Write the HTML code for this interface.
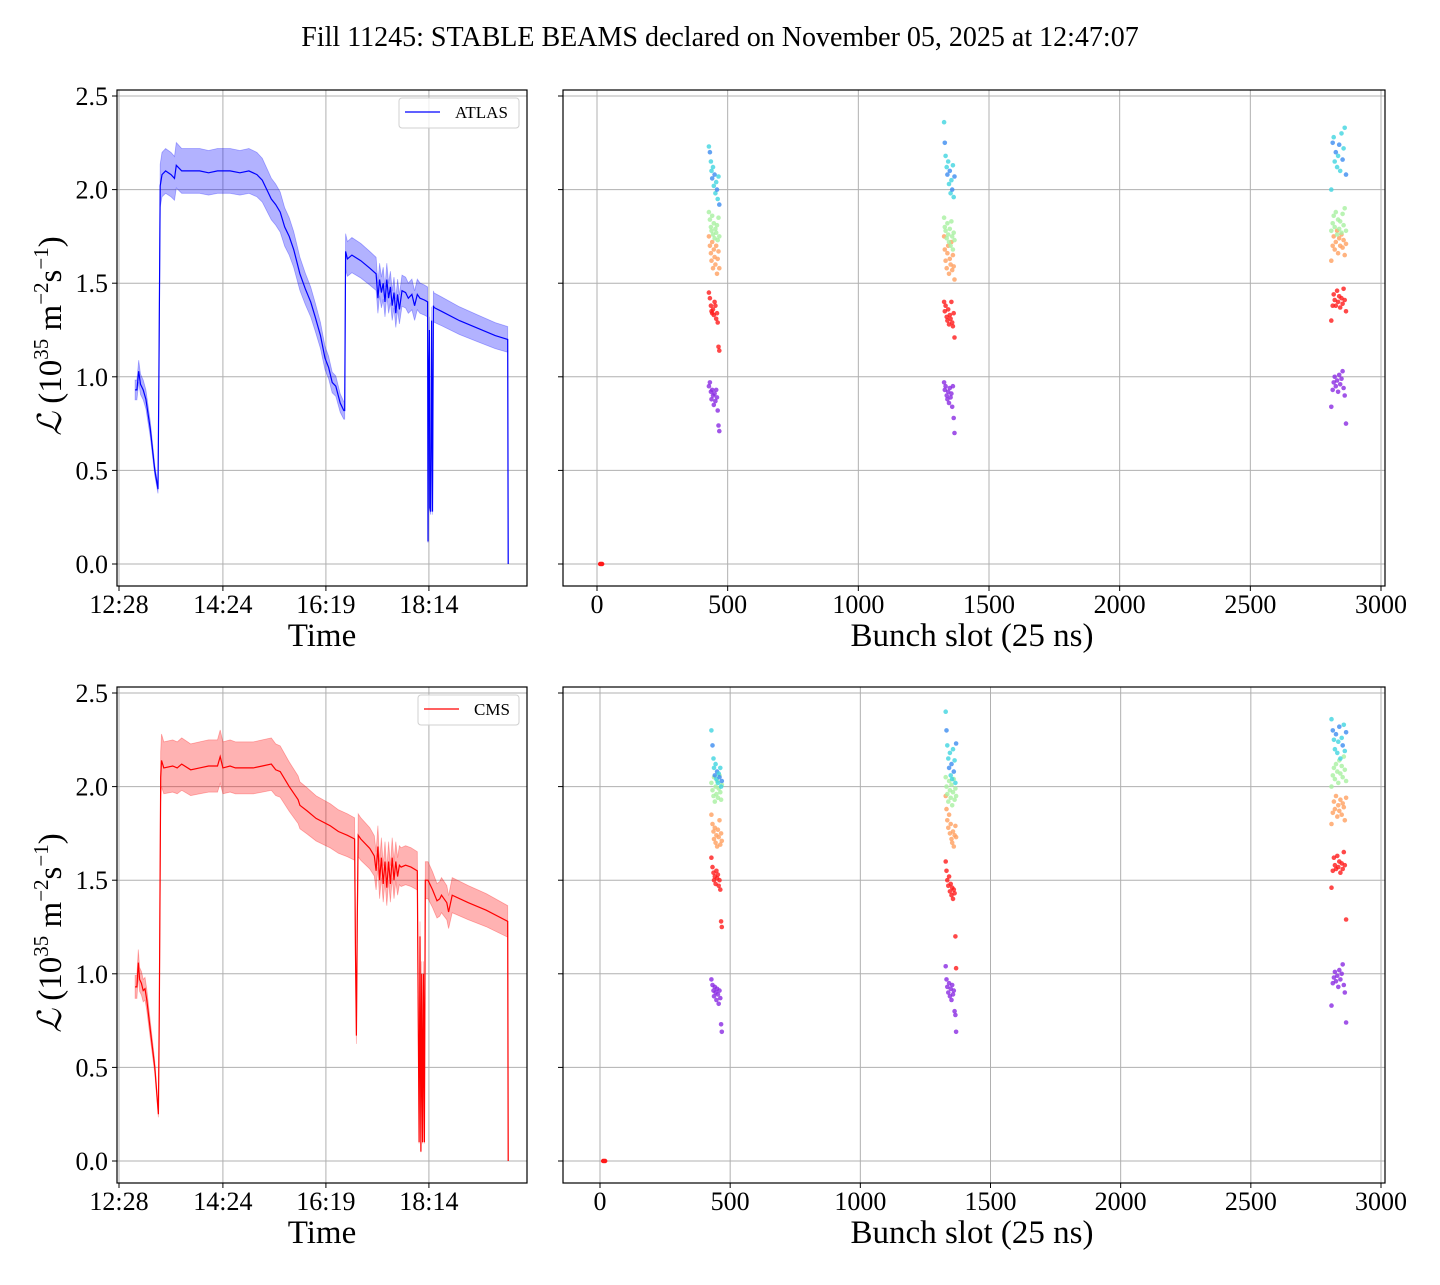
<!DOCTYPE html>
<html><head><meta charset="utf-8"><style>
html,body{margin:0;padding:0;background:#fff;}
svg text{font-family:"Liberation Serif","DejaVu Serif",serif;fill:#000;}
</style></head><body>
<svg id="fig" width="1440" height="1280" viewBox="0 0 1440 1280" xmlns="http://www.w3.org/2000/svg">
<rect width="1440" height="1280" fill="#fff"/>
<text x="720" y="46" font-size="28" text-anchor="middle">Fill 11245: STABLE BEAMS declared on November 05, 2025 at 12:47:07</text>
</svg>
<script>
// ---------- data ----------
const timeTickLabels = ["12:28","14:24","16:19","18:14"];
const timeTickMinutes = [0,116,231,346];
const yTicks = [0.0,0.5,1.0,1.5,2.0,2.5];
const yTickLabels = ["0.0","0.5","1.0","1.5","2.0","2.5"];
const slotTicks = [0,500,1000,1500,2000,2500,3000];
const atlasErrFrac = 0.057;
const cmsErrFrac = 0.066;
const atlasPoints = [[18,.93],[20,.93],[22,1.03],[24,.96],[27,.93],[30,.88],[35,.72],[40,.5],[43.5,.4],[44.5,1.0],[46,2.02],[48,2.08],[52,2.1],[58,2.08],[62,2.06],[64,2.13],[70,2.1],[80,2.1],[90,2.1],[100,2.09],[110,2.1],[124,2.1],[135,2.09],[145,2.1],[154,2.08],[160,2.05],[166,1.99],[170,1.95],[175,1.92],[180,1.88],[185,1.8],[190,1.75],[195,1.68],[202,1.55],[208,1.47],[214,1.4],[219,1.32],[225,1.22],[230,1.1],[234,1.05],[238,.97],[242,.95],[247,.86],[251,.82],[252,.82],[253,1.67],[255,1.63],[260,1.65],[270,1.62],[280,1.58],[287,1.55],[289,1.42],[291,1.52],[293,1.45],[295,1.5],[297,1.4],[299,1.52],[301,1.42],[303,1.48],[305,1.38],[307,1.45],[309,1.34],[311,1.44],[313,1.36],[316,1.46],[320,1.45],[323,1.42],[327,1.44],[330,1.38],[333,1.44],[336,1.42],[341,1.41],[344.5,1.40],[345,.12],[345.5,.95],[346.5,1.25],[347,.3],[348,.28],[349,1.3],[350,.28],[351,1.38],[351.7,1.37],[360,1.35],[380,1.3],[400,1.26],[420,1.22],[434,1.2],[434.5,0]];
const cmsPoints = [[18,.93],[20,.93],[21.5,1.06],[23,.97],[25,.95],[27,.91],[29,.92],[31,.86],[35,.7],[40,.5],[44,.25],[45,.8],[46.5,2.05],[47.5,2.14],[50,2.1],[60,2.11],[65,2.1],[70,2.12],[80,2.09],[90,2.1],[100,2.11],[110,2.11],[113,2.16],[116,2.1],[124,2.11],[130,2.1],[140,2.1],[150,2.1],[160,2.11],[170,2.12],[175,2.09],[180,2.08],[190,2.0],[200,1.93],[202,1.9],[210,1.87],[220,1.83],[236,1.79],[245,1.76],[255,1.74],[263,1.72],[264,1.1],[265,.67],[266,1.3],[267,1.74],[270,1.72],[280,1.67],[285,1.63],[287,1.55],[289,1.68],[291,1.5],[293,1.62],[295,1.48],[297,1.6],[299,1.46],[301,1.6],[303,1.48],[305,1.62],[307,1.5],[309,1.6],[311,1.52],[313,1.58],[315,1.57],[320,1.58],[326,1.57],[333,1.55],[334,.8],[335,.1],[336,1.2],[337,.05],[338,1.0],[339,.1],[340,1.0],[341,.1],[342,1.5],[345,1.5],[350,1.45],[355,1.39],[358,1.4],[360,1.42],[366,1.38],[368,1.33],[372,1.42],[390,1.38],[410,1.34],[434,1.28],[434.5,0]];

const slotsA = [428,432,436,438,441,444,447,450,453,456,459,462,465,468];
const slotsB = [1328,1331,1334,1338,1341,1344,1347,1350,1353,1356,1359,1362,1365,1368];
const slotsC = [2810,2815,2819,2823,2827,2832,2836,2840,2844,2849,2853,2857,2861,2866];
const levelColors = ["#8a2be2","#ff1a1a","#ffa060","#a8f0a0","#40d4e0"];
const atlasA = [
 [.95,.97,.92,.88,.93,.90,.85,.91,.87,.93,.89,.82,.74,.71],
 [1.45,1.42,1.38,1.35,1.34,1.36,1.33,1.40,1.38,1.31,1.34,1.29,1.16,1.14],
 [1.75,1.70,1.66,1.62,1.72,1.58,1.68,1.64,1.60,1.70,1.55,1.63,1.67,1.58],
 [1.88,1.84,1.80,1.78,1.86,1.76,1.82,1.74,1.79,1.77,1.81,1.73,1.85,1.75],
 [2.23,2.20,2.15,2.10,2.06,2.12,2.02,2.08,1.98,2.04,2.00,1.95,2.07,1.92]];
const atlasB = [
 [.97,.93,.95,.90,.88,.92,.86,.94,.89,.91,.84,.95,.78,.70],
 [1.40,1.35,1.38,1.32,1.30,1.36,1.28,1.33,1.31,1.40,1.29,1.27,1.34,1.21],
 [1.75,1.68,1.62,1.58,1.66,1.70,1.55,1.63,1.60,1.72,1.57,1.65,1.59,1.52],
 [1.85,1.80,1.78,1.74,1.82,1.76,1.72,1.79,1.70,1.83,1.75,1.68,1.77,1.73],
 [2.36,2.25,2.18,2.12,2.08,2.15,2.03,2.10,1.98,2.05,2.00,2.13,1.96,2.07]];
const atlasC = [
 [.84,.93,.97,1.00,.95,.98,.92,1.01,.96,.99,1.03,.94,.90,.75],
 [1.30,1.38,1.44,1.41,1.38,1.46,1.40,1.43,1.37,1.42,1.39,1.47,1.41,1.35],
 [1.62,1.70,1.75,1.68,1.72,1.78,1.66,1.74,1.70,1.76,1.69,1.73,1.65,1.71],
 [1.78,1.82,1.86,1.80,1.88,1.76,1.84,1.79,1.83,1.77,1.87,1.81,1.90,1.78],
 [2.00,2.25,2.28,2.15,2.20,2.12,2.18,2.24,2.10,2.30,2.16,2.22,2.33,2.08]];
const cmsA = [
 [.97,.94,.91,.88,.93,.90,.86,.92,.89,.84,.91,.87,.73,.69],
 [1.62,1.57,1.54,1.50,1.52,1.48,1.55,1.51,1.53,1.47,1.50,1.45,1.28,1.25],
 [1.85,1.80,1.76,1.72,1.78,1.70,1.74,1.68,1.77,1.73,1.82,1.69,1.75,1.71],
 [2.02,1.98,1.95,2.05,1.92,2.00,1.96,2.03,1.94,1.99,2.06,1.97,1.93,2.01],
 [2.30,2.22,2.15,2.10,2.06,2.12,2.04,2.08,2.02,2.07,2.05,2.10,2.00,2.03]];
const cmsB = [
 [1.04,.97,.93,.90,.95,.88,.92,.86,.94,.89,.91,.80,.78,.69],
 [1.60,1.55,1.50,1.47,1.52,1.44,1.48,1.42,1.46,1.40,1.45,1.43,1.20,1.03],
 [1.95,1.88,1.82,1.78,1.85,1.75,1.80,1.72,1.70,1.76,1.68,1.74,1.79,1.73],
 [2.05,2.00,1.96,1.92,2.03,1.98,1.94,2.01,1.90,1.97,2.04,1.93,1.99,1.95],
 [2.40,2.30,2.22,2.15,2.10,2.18,2.06,2.12,2.04,2.20,2.08,2.14,2.02,2.23]];
const cmsC = [
 [.83,.95,.98,1.01,.96,.99,.93,1.02,.97,1.00,1.05,.94,.90,.74],
 [1.46,1.55,1.62,1.58,1.56,1.63,1.57,1.60,1.54,1.59,1.56,1.65,1.58,1.29],
 [1.80,1.86,1.92,1.88,1.95,1.84,1.90,1.87,1.93,1.85,1.91,1.89,1.82,1.94],
 [2.00,2.06,2.10,2.04,2.12,2.08,2.02,2.14,2.07,2.11,2.05,2.16,2.09,2.03],
 [2.36,2.30,2.25,2.20,2.28,2.18,2.24,2.32,2.15,2.26,2.22,2.33,2.19,2.29]];
const emptySlot = [12,16,20];
const emptyVal = [0,0,0];

// ---------- drawing ----------
const NS="http://www.w3.org/2000/svg";
const svg=document.getElementById('fig');
function el(tag,attrs,parent){const e=document.createElementNS(NS,tag);for(const k in attrs)e.setAttribute(k,attrs[k]);(parent||svg).appendChild(e);return e;}

function yScaleFor(top){const y0=top?564:1161;return v=>y0-v*187.2;}
function tScale(t){return 119+t*0.8957;}

function drawFrame(g,x0,x1,yt,yb){
  const r=el('rect',{x:x0,y:yt,width:x1-x0,height:yb-yt,fill:'none',stroke:'#000','stroke-width':1.2},g);
  
  
}
function drawYAxis(g,x0,x1,ys,labels){
  yTicks.forEach((v,i)=>{
    const y=ys(v);
    const gl=el('line',{x1:x0,x2:x1,y1:y,y2:y,stroke:'#b0b0b0','stroke-width':1},g);
    
    
    const tk=el('line',{x1:x0-5,x2:x0,y1:y,y2:y,stroke:'#000','stroke-width':1},g);
    
    
    if(labels){
      const t=el('text',{x:x0-9,y:y+9,'font-size':26,'text-anchor':'end'},g);
      t.textContent=yTickLabels[i];
      
      
    }
  });
}
function drawTimePanel(top,pts,errFrac,color,fill,name,legendX){
  const yt=top?90:687,yb=top?586:1183,x0=117,x1=527;
  const g=el('g',{});
  
  
  const ys=yScaleFor(top);
  timeTickMinutes.forEach((m,i)=>{
    const x=tScale(m);
    const gl=el('line',{x1:x,x2:x,y1:yt,y2:yb,stroke:'#b0b0b0','stroke-width':1},g);
    
    
    const tk=el('line',{x1:x,x2:x,y1:yb,y2:yb+5,stroke:'#000','stroke-width':1},g);
    
    
    const t=el('text',{x:x,y:yb+27,'font-size':26,'text-anchor':'middle'},g);
    t.textContent=timeTickLabels[i];
    
    
  });
  drawYAxis(g,x0,x1,ys,true);
  let up=pts.map(p=>tScale(p[0]).toFixed(1)+','+ys(p[1]*(1+errFrac)).toFixed(1));
  let lo=pts.slice().reverse().map(p=>tScale(p[0]).toFixed(1)+','+ys(p[1]*(1-errFrac)).toFixed(1));
  const band=el('polygon',{points:up.concat(lo).join(' '),fill:fill,'fill-opacity':0.3,stroke:fill,'stroke-opacity':0.3,'stroke-width':0.8},g);
  
  
  const line=el('polyline',{points:pts.map(p=>tScale(p[0]).toFixed(1)+','+ys(p[1]).toFixed(1)).join(' '),fill:'none',stroke:color,'stroke-width':1.2},g);
  
  
  drawFrame(g,x0,x1,yt,yb);
  const lg=el('g',{},g);
  
  
  el('rect',{x:legendX,y:yt+8,width:519-legendX,height:30,rx:3,fill:'#fff','fill-opacity':0.8,stroke:'#d0d0d0'},lg);
  el('line',{x1:legendX+6,x2:legendX+41,y1:yt+22,y2:yt+22,stroke:color,'stroke-width':1.2},lg);
  const lt=el('text',{x:legendX+56,y:yt+28,'font-size':17},lg);
  lt.textContent=name;
  const xl=el('text',{x:322,y:yb+60,'font-size':33,'text-anchor':'middle'},g);
  xl.textContent='Time';
  
  
  const cy=(yt+yb)/2-2;
  const yl=el('text',{x:0,y:0,'font-size':33,'text-anchor':'middle',transform:`translate(61,${cy}) rotate(-90)`},g);
  yl.innerHTML='<tspan font-style="italic">ℒ</tspan> (10<tspan font-size="21" dy="-13">35</tspan><tspan dy="13"> m</tspan><tspan font-size="21" dy="-13">−2</tspan><tspan dy="13">s</tspan><tspan font-size="21" dy="-13">−1</tspan><tspan dy="13">)</tspan>';
  
  
}
function drawSlotPanel(top,trains){
  const yt=top?90:687,yb=top?586:1183,x0=563,x1=1385;
  const sx0=top?597:600, sk=(1381-sx0)/3000;
  const sx=s=>sx0+s*sk;
  const g=el('g',{});
  
  
  const ys=yScaleFor(top);
  slotTicks.forEach(s=>{
    const x=sx(s);
    const gl=el('line',{x1:x,x2:x,y1:yt,y2:yb,stroke:'#b0b0b0','stroke-width':1},g);
    
    
    const tk=el('line',{x1:x,x2:x,y1:yb,y2:yb+5,stroke:'#000','stroke-width':1},g);
    
    
    const t=el('text',{x:x,y:yb+27,'font-size':26,'text-anchor':'middle'},g);
    t.textContent=String(s);
    
    
  });
  drawYAxis(g,x0,x1,ys,false);
  trains.forEach(tr=>{
    const slots=tr[0],levels=tr[1];
    levels.forEach((vals,li)=>{
      vals.forEach((v,i)=>{
        const col=(li===4&&i%3===1)?'#3c8cf0':levelColors[li];
        const c=el('circle',{cx:sx(slots[i]).toFixed(1),cy:ys(v).toFixed(1),r:2.3,fill:col,'fill-opacity':0.8},g);
        
        
      });
    });
  });
  emptySlot.forEach((s,i)=>{
    const c=el('circle',{cx:sx(s).toFixed(1),cy:ys(emptyVal[i]).toFixed(1),r:2.2,fill:'#ff1a1a'},g);
    
    
  });
  drawFrame(g,x0,x1,yt,yb);
  const xl=el('text',{x:972,y:yb+60,'font-size':33,'text-anchor':'middle'},g);
  xl.textContent='Bunch slot (25 ns)';
  
  
}
drawTimePanel(true,atlasPoints,atlasErrFrac,'#0000ff','#0000ff','ATLAS',399);
drawTimePanel(false,cmsPoints,cmsErrFrac,'#ff0000','#ff0000','CMS',418);
drawSlotPanel(true,[[slotsA,atlasA],[slotsB,atlasB],[slotsC,atlasC]]);
drawSlotPanel(false,[[slotsA,cmsA],[slotsB,cmsB],[slotsC,cmsC]]);
</script>
</body></html>
